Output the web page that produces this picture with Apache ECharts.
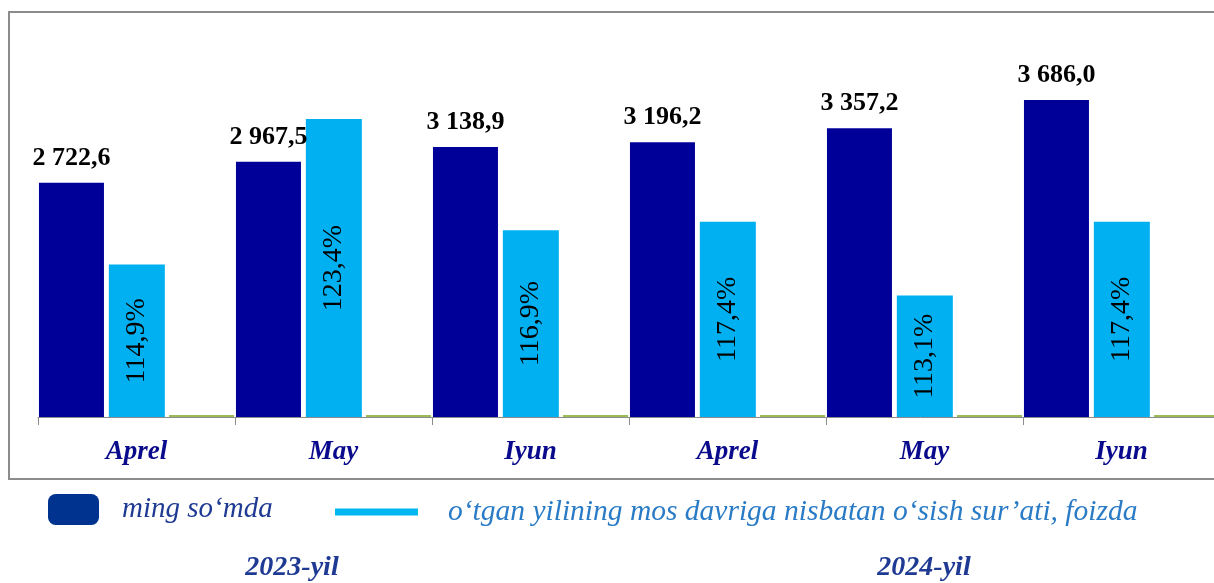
<!DOCTYPE html>
<html>
<head>
<meta charset="utf-8">
<script src="https://cdn.jsdelivr.net/npm/echarts@6/dist/echarts.min.js"></script>
<style>
  html, body { margin: 0; padding: 0; background: #fff; }
  #main { width: 1214px; height: 583px; }
</style>
</head>
<body>
<div id="main"></div>
<script>
// oylar (kategoriyalar)
var categories = ['Aprel', 'May', 'Iyun', 'Aprel', 'May', 'Iyun'];
// ming so'mda
var sumValues = [2722.6, 2967.5, 3138.9, 3196.2, 3357.2, 3686.0];
// o'sish sur'ati, foizda
var growthValues = [114.9, 123.4, 116.9, 117.4, 113.1, 117.4];
// yashil asos qatori (nol qiymatlar)
var baseValues = [0, 0, 0, 0, 0, 0];
var years = ['2023-yil', '2024-yil'];
var seriesNames = ['ming so‘mda', 'o‘tgan yilining mos davriga nisbatan o‘sish sur’ati, foizda'];

function fmtNum(v) {
  var s = v.toFixed(1).split('.');
  var int = s[0].replace(/\B(?=(\d{3})+(?!\d))/g, ' ');
  return int + ',' + s[1];
}

var myChart = echarts.init(document.getElementById('main'));

var option = {
  animation: false,
  grid: { left: 38, top: 30, width: 1182, height: 387, outerBoundsMode: 'none' },
  legend: [
    {
      left: 43, top: 489,
      itemWidth: 51, itemHeight: 31,
      data: [{ name: seriesNames[0], icon: 'roundRect', itemStyle: { color: '#00338f' } }],
      textStyle: { fontFamily: 'Liberation Serif', fontStyle: 'italic', fontSize: 29, color: '#1f3a93', padding: [0, 0, 0, 18] }
    },
    {
      left: 330, top: 492,
      itemWidth: 83, itemHeight: 7,
      data: [{ name: seriesNames[1], icon: 'rect', itemStyle: { color: '#00b8f0' } }],
      textStyle: { fontFamily: 'Liberation Serif', fontStyle: 'italic', fontSize: 29.5, color: '#2a7bc6', padding: [0, 0, 0, 25] }
    }
  ],
  xAxis: {
    type: 'category',
    data: categories,
    axisLine: { show: true, onZero: false, lineStyle: { color: '#8c8c8c', width: 1 } },
    axisTick: { show: true, length: 8, lineStyle: { color: '#8c8c8c', width: 1 } },
    axisLabel: {
      margin: 22,
      fontFamily: 'Liberation Serif', fontStyle: 'italic', fontWeight: 'bold',
      fontSize: 27, color: '#0a0a8c'
    }
  },
  yAxis: [
    { type: 'value', min: 0, max: 4500, show: false, splitLine: { show: false } },
    { type: 'value', min: 106, max: 128.6, show: false, splitLine: { show: false } }
  ],
  series: [
    {
      name: seriesNames[0],
      type: 'bar',
      yAxisIndex: 0,
      data: sumValues,
      barWidth: 65,
      barGap: '7.5%',
      itemStyle: { color: '#000099' },
      label: {
        show: true, position: 'top', distance: 12,
        fontFamily: 'Liberation Serif', fontWeight: 'bold', fontSize: 26, color: '#000',
        formatter: function (p) { return fmtNum(p.value); }
      }
    },
    {
      name: seriesNames[1],
      type: 'bar',
      yAxisIndex: 1,
      data: growthValues,
      barWidth: 56,
      barGap: '7.5%',
      itemStyle: { color: '#00b0f0' },
      label: {
        show: true, position: 'inside', rotate: 90,
        fontFamily: 'Liberation Serif', fontSize: 28, color: '#000',
        formatter: function (p) { return fmtNum(p.value) + '%'; }
      }
    },
    {
      name: 'asos',
      type: 'bar',
      yAxisIndex: 0,
      data: baseValues,
      barWidth: 65,
      barGap: '7.5%',
      barMinHeight: 2,
      itemStyle: { color: '#9bbb59' }
    }
  ],
  graphic: [
    {
      type: 'rect', z: -1, silent: true,
      shape: { x: 9, y: 12, width: 1240, height: 467 },
      style: { fill: 'none', stroke: '#8c8c8c', lineWidth: 2 }
    },
    {
      type: 'text',
      style: {
        text: years[0], x: 292, y: 568, align: 'center', verticalAlign: 'middle',
        font: 'italic bold 28px "Liberation Serif"', fill: '#1f3a93'
      }
    },
    {
      type: 'text',
      style: {
        text: years[1], x: 924, y: 568, align: 'center', verticalAlign: 'middle',
        font: 'italic bold 28px "Liberation Serif"', fill: '#1f3a93'
      }
    }
  ]
};

myChart.setOption(option);
</script>
</body>
</html>
